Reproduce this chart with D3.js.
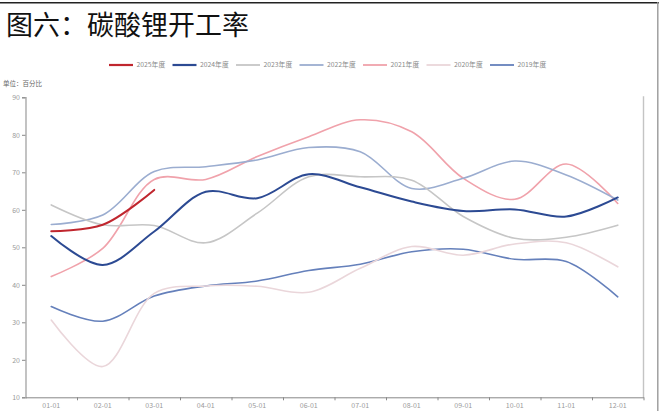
<!DOCTYPE html>
<html>
<head>
<meta charset="utf-8">
<script src="https://cdn.jsdelivr.net/npm/d3@7/dist/d3.min.js"></script>
<style>
  html, body { margin: 0; padding: 0; background: #fff; }
  svg { display: block; }
  text { font-family: "Noto Sans CJK SC", "DejaVu Sans", sans-serif; }
</style>
</head>
<body>
<svg id="chart" width="659" height="411"></svg>
<script>
// Month categories along the x axis
const months = ["01-01","02-01","03-01","04-01","05-01","06-01","07-01","08-01","09-01","10-01","11-01","12-01"];

// Operating rate (%) per year, one value per month
const y2025 = [54.3, 56.0, 65.3];
const y2024 = [53.0, 45.3, 54.2, 64.8, 63.1, 69.5, 66.0, 62.2, 59.7, 60.1, 58.2, 63.3];
const y2023 = [61.3, 56.0, 55.8, 51.2, 59.1, 68.8, 68.8, 67.9, 58.2, 52.4, 52.7, 55.9];
const y2022 = [56.1, 58.6, 70.2, 71.5, 73.3, 76.6, 75.5, 65.7, 68.4, 73.0, 69.3, 62.6];
const y2021 = [42.2, 49.7, 68.1, 68.1, 74.2, 79.5, 84.0, 80.8, 68.4, 62.8, 72.2, 61.7];
const y2020 = [30.6, 18.2, 37.7, 39.7, 39.6, 38.0, 44.4, 50.2, 47.9, 50.9, 51.2, 44.8];
const y2019 = [34.2, 30.3, 37.0, 39.7, 41.0, 43.8, 45.5, 48.8, 49.5, 46.8, 46.2, 36.8];

const yTicks = [10, 20, 30, 40, 50, 60, 70, 80, 90];

const series = [
  { name: "2025年度", values: y2025, color: "#c0262e", width: 2 },
  { name: "2024年度", values: y2024, color: "#2c4a93", width: 2 },
  { name: "2023年度", values: y2023, color: "#c6c6c6", width: 1.6 },
  { name: "2022年度", values: y2022, color: "#9badd0", width: 1.6 },
  { name: "2021年度", values: y2021, color: "#f0a2ab", width: 1.6 },
  { name: "2020年度", values: y2020, color: "#ead6da", width: 1.6 },
  { name: "2019年度", values: y2019, color: "#6580bb", width: 1.6 }
];

const svg = d3.select("#chart");
const plot = { left: 25.5, right: 643.5, top: 97.3, bottom: 397.3 };

const x = d3.scaleBand().domain(months).range([plot.left, plot.right]).padding(0);
const xEdge = d3.scaleLinear().domain([0, months.length]).range([plot.left, plot.right]);
const y = d3.scaleLinear().domain([10, 90]).range([plot.bottom, plot.top]);

// Outer frame: top rule and right rule
svg.append("line").attr("x1", 0).attr("x2", 659).attr("y1", 2.8).attr("y2", 2.8)
  .attr("stroke", "#222").attr("stroke-width", 1.6);
svg.append("line").attr("x1", 657.8).attr("x2", 657.8).attr("y1", 2).attr("y2", 411)
  .attr("stroke", "#9a9a9a").attr("stroke-width", 1.4);

// Title
svg.append("text").attr("x", 6).attr("y", 35)
  .attr("font-size", 27).attr("fill", "#111")
  .text("图六：碳酸锂开工率");

// Unit label
svg.append("text").attr("x", 3).attr("y", 85.5)
  .attr("font-size", 6.5).attr("fill", "#666")
  .text("单位：百分比");

// Legend
const legend = svg.append("g").attr("transform", "translate(109,65)");
series.forEach((s, i) => {
  const g = legend.append("g").attr("transform", `translate(${i * 63.5},0)`);
  g.append("line").attr("x1", 0).attr("x2", 24).attr("y1", 0).attr("y2", 0)
    .attr("stroke", s.color).attr("stroke-width", i < 2 ? 2.2 : 1.8);
  g.append("text").attr("x", 27.5).attr("y", 2.4)
    .attr("font-size", 6.8).attr("fill", "#8a8a8a").text(s.name);
});

// Y axis
const yAxis = svg.append("g").attr("transform", `translate(${plot.left},0)`)
  .call(d3.axisLeft(y).tickValues(yTicks).tickSize(3.5).tickPadding(2));
yAxis.select(".domain").attr("stroke", "#b4b4b4").attr("stroke-width", 1.6);
yAxis.selectAll(".tick line").attr("stroke", "#888");
yAxis.selectAll(".tick text").attr("fill", "#9a9a9a").attr("font-size", 7)
  .attr("font-family", "\"Noto Sans CJK SC\", sans-serif");

// Right border of the plot area
svg.append("line").attr("x1", plot.right).attr("x2", plot.right)
  .attr("y1", plot.top - 1).attr("y2", plot.bottom)
  .attr("stroke", "#c4c4c4").attr("stroke-width", 1.4);

// X axis: labels centred in month bands, ticks on band edges
const xAxis = svg.append("g").attr("transform", `translate(0,${plot.bottom})`)
  .call(d3.axisBottom(x).tickSize(0).tickPadding(6));
xAxis.select(".domain").attr("stroke", "#888").attr("stroke-width", 1);
xAxis.selectAll(".tick text").attr("fill", "#9a9a9a").attr("font-size", 7)
  .attr("font-family", "\"Noto Sans CJK SC\", sans-serif");

const xTicks = svg.append("g").attr("transform", `translate(0,${plot.bottom})`)
  .call(d3.axisBottom(xEdge).tickValues(d3.range(1, months.length + 1)).tickSize(3).tickFormat(""));
xTicks.select(".domain").remove();
xTicks.selectAll(".tick line").attr("stroke", "#888");

// Series lines (drawn oldest first so recent years sit on top)
const line = d3.line()
  .x((d, i) => x(months[i]) + x.bandwidth() / 2)
  .y(d => y(d))
  .curve(d3.curveCatmullRom.alpha(0.5));

const lines = svg.append("g").attr("fill", "none");
series.slice().reverse().forEach(s => {
  lines.append("path")
    .attr("d", line(s.values))
    .attr("stroke", s.color)
    .attr("stroke-width", s.width)
    .attr("stroke-linejoin", "round")
    .attr("stroke-linecap", "round");
});
</script>
</body>
</html>
